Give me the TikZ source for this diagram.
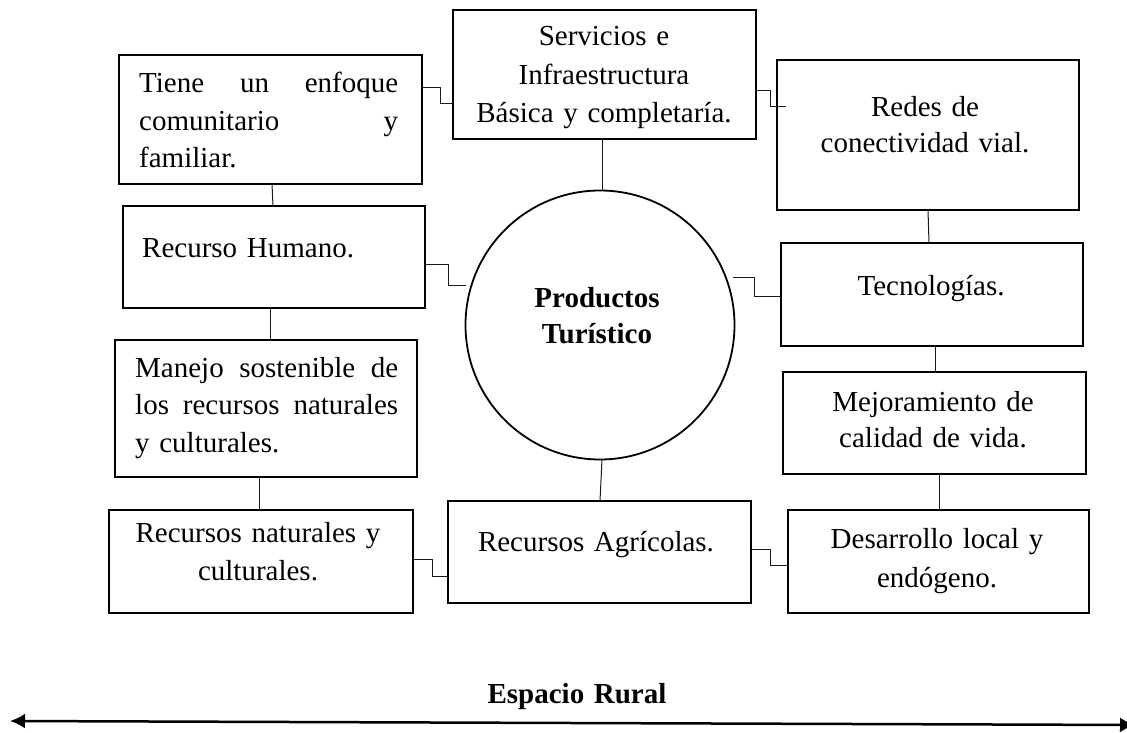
\documentclass[tikz,border=0pt]{standalone}
\usepackage{fontspec}
\setmainfont{Liberation Serif}
\usetikzlibrary{arrows.meta}
\tikzset{caja/.style={draw, rectangle, line width=1.8pt, inner sep=0pt, outer sep=0pt, anchor=north west}}
\tikzset{texto/.style={inner sep=0pt, font=\fontsize{29}{37.5}\selectfont, anchor=base, align=center, text width=290pt}}
\tikzset{enlace/.style={line width=1pt, black!90}}
\tikzset{flecha/.style={line width=2.5pt, {Latex[length=15pt,width=15pt]}-{Latex[length=15pt,width=15pt]}}}

\begin{document}
\begin{tikzpicture}[x=1pt, y=-1pt]
    \useasboundingbox (0,0) rectangle (1127,733);
    % cajas
    \node[caja, minimum width=303, minimum height=129] (tiene) at (119,55) {};
    \node[caja, minimum width=303, minimum height=129] (serv) at (453,10) {};
    \node[caja, minimum width=302, minimum height=150] (redes) at (777,60) {};
    \node[caja, minimum width=302, minimum height=102] (humano) at (123,206) {};
    \node[caja, minimum width=302, minimum height=137] (manejo) at (115,340) {};
    \node[caja, minimum width=304, minimum height=103] (naturales) at (109,510) {};
    \node[caja, minimum width=303, minimum height=102] (agricolas) at (448,501) {};
    \node[caja, minimum width=302, minimum height=103] (tecno) at (781,243) {};
    \node[caja, minimum width=303, minimum height=102] (mejora) at (783,372) {};
    \node[caja, minimum width=301, minimum height=103] (desarrollo) at (788,510) {};
    \node[circle, draw, line width=1.8pt, inner sep=0pt, outer sep=0pt, minimum size=269] (circ) at (600,325) {};
    % textos
    \node[texto, anchor=base west, align=left, text width=259pt] (tiene-t) at (139,93)
      {Tiene\hfill un\hfill enfoque\\comunitario\hfill y\\familiar.};
    \node[texto, font=\fontsize{29}{38.5}\selectfont] (serv-t) at (604,46)
      {Servicios e\\Infraestructura\\Básica y completaría.};
    \node[texto, font=\fontsize{29}{36}\selectfont] (redes-t) at (925,117)
      {Redes de\\conectividad vial.};
    \node[texto, anchor=base west, align=left] (humano-t) at (142,257) {Recurso Humano.};
    \node[texto, anchor=base west, align=left, text width=263pt] (manejo-t) at (135,377)
      {Manejo\hfill sostenible\hfill de\\los\hfill recursos\hfill naturales\\y culturales.};
    \node[texto, font=\fontsize{29}{38}\selectfont] (naturales-t) at (258,542)
      {Recursos naturales y\\culturales.};
    \node[texto] (agricolas-t) at (596,551) {Recursos Agrícolas.};
    \node[texto] (tecno-t) at (931,295) {Tecnologías.};
    \node[texto, font=\fontsize{29}{36}\selectfont] (mejora-t) at (933,411)
      {Mejoramiento de\\calidad de vida.};
    \node[texto, font=\fontsize{29}{39}\selectfont] (desarrollo-t) at (937,548)
      {Desarrollo local y\\endógeno.};
    \node[texto, font=\bfseries\fontsize{29}{36}\selectfont] (circ-t) at (597,307)
      {Productos\\Turístico};
    \node[texto, font=\bfseries\fontsize{29}{36}\selectfont] (rural) at (577,703) {Espacio Rural};
    % enlaces
    \draw[enlace] (tiene.east |- 0,88) -- (440,88) |- (serv.west |- 0,104);
    \draw[enlace] (serv.east |- 0,91) -- (770,91) |- (786,107);
    \draw[enlace] (humano.east |- 0,264) -- (448,264) |- (circ.west |- 0,285);
    \draw[enlace] (733,277) -- (754,277) |- (tecno.west |- 0,296);
    \draw[enlace] (naturales.east |- 0,559) -- (432,559) |- (agricolas.west |- 0,576);
    \draw[enlace] (agricolas.east |- 0,549) -- (770,549) |- (desarrollo.west |- 0,565);
    \draw[enlace] (serv.south -| 602,0) -- (circ.north -| 602,0);
    \draw[enlace] (circ.south -| 602,0) -- (agricolas.north -| 600,0);
    \draw[enlace] (tiene.south -| 272,0) -- (humano.north -| 273,0);
    \draw[enlace] (humano.south -| 270,0) -- (manejo.north -| 270,0);
    \draw[enlace] (manejo.south -| 259,0) -- (naturales.north -| 259,0);
    \draw[enlace] (redes.south -| 928,0) -- (tecno.north -| 929,0);
    \draw[enlace] (tecno.south -| 935,0) -- (mejora.north -| 935,0);
    \draw[enlace] (mejora.south -| 939,0) -- (desarrollo.north -| 939,0);
    % espacio rural
    \coordinate (izq) at (10,721);
    \coordinate (der) at (1135,725);
    \draw[flecha] (izq) -- (der);
\end{tikzpicture}
\end{document}
